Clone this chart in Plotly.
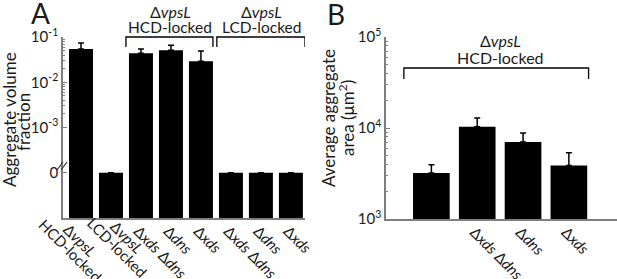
import plotly.graph_objects as go

# ---------------- data ----------------
a_labels = ["Δ<i>vpsL</i><br>HCD-locked", "Δ<i>vpsL</i><br>LCD-locked",
            "Δ<i>xds</i> Δ<i>dns</i>", "Δ<i>dns</i>", "Δ<i>xds</i>",
            "Δ<i>xds</i> Δ<i>dns</i>", "Δ<i>dns</i>", "Δ<i>xds</i>"]
a_values = [0.054, 0, 0.044, 0.051, 0.029, 0, 0, 0]
a_errors = [0.020, 0, 0.010, 0.015, 0.020, 0, 0, 0]

b_labels = ["", "Δ<i>xds</i> Δ<i>dns</i>", "Δ<i>dns</i>", "Δ<i>xds</i>"]
b_values = [3200, 10300, 7000, 3860]
b_errors = [750, 2600, 1800, 1500]

a_tickvals = [1e-4, 1e-3, 1e-2, 1e-1]
a_ticktext = ["0", "10<sup>-3</sup>", "10<sup>-2</sup>", "10<sup>-1</sup>"]
b_tickvals = [1e3, 1e4, 1e5]
b_ticktext = ["10<sup>3</sup>", "10<sup>4</sup>", "10<sup>5</sup>"]

ZERO_AT = 1e-4  # position of the "0" level below the axis break

FONT = "Lato"
TXT = "#1a1a1a"
AX = "#7f7f7f"

W, H = 617, 279
def px(x): return x / W
def py(y): return 1 - y / H

a_x = list(range(len(a_values)))
a_plot = [v if v > 0 else ZERO_AT for v in a_values]
b_x = list(range(len(b_values)))
# the two two-line labels are drawn as centred annotations below
a_ticktext_x = ["" if "<br>" in s else s for s in a_labels]

fig = go.Figure()
fig.add_trace(go.Bar(
    x=a_x, y=a_plot, width=0.8, marker=dict(color="black", line=dict(width=0)),
    error_y=dict(type="data", array=a_errors, arrayminus=[0] * len(a_errors),
                 symmetric=False, color="black", thickness=1.5, width=3),
    xaxis="x", yaxis="y", showlegend=False, hoverinfo="skip"))
fig.add_trace(go.Bar(
    x=b_x, y=b_values, width=0.8, marker=dict(color="black", line=dict(width=0)),
    error_y=dict(type="data", array=b_errors, arrayminus=[0] * len(b_errors),
                 symmetric=False, color="black", thickness=1.5, width=3),
    xaxis="x2", yaxis="y2", showlegend=False, hoverinfo="skip"))

minor_a = [k * 10 ** e for e in (-3, -2) for k in range(2, 10)]
minor_b = [k * 10 ** e for e in (3, 4) for k in range(2, 10)]

common_x = dict(showgrid=False, zeroline=False, showline=True, linecolor=AX, linewidth=1.5,
                ticks="", tickangle=45, tickfont=dict(family=FONT, size=15, color=TXT),
                ticklabelstandoff=-3, ticklabelshift=-3, automargin=False, fixedrange=True)
common_y = dict(type="log", showgrid=False, zeroline=False, showline=True, linecolor=AX,
                linewidth=1.5, ticks="inside", ticklen=4, tickcolor=AX,
                tickfont=dict(family=FONT, size=15, color=TXT), automargin=False,
                fixedrange=True)

fig.update_layout(
    width=W, height=H, margin=dict(l=0, r=0, t=0, b=0),
    paper_bgcolor="white", plot_bgcolor="white", bargap=0.2,
    xaxis=dict(domain=[px(63), px(305)], range=[-0.6, 7.47], tickmode="array",
               tickvals=a_x, ticktext=a_ticktext_x, anchor="y", **common_x),
    yaxis=dict(domain=[py(218), py(37)], range=[-5, -1], tickmode="array",
               tickvals=a_tickvals, ticktext=a_ticktext, anchor="x",
               minor=dict(tickmode="array", tickvals=minor_a, ticks="inside",
                          ticklen=2, tickcolor=AX), **common_y),
    xaxis2=dict(domain=[px(386), 1.0], range=[-0.99, 4.05], tickmode="array",
                tickvals=b_x, ticktext=b_labels, anchor="y2", **common_x),
    yaxis2=dict(domain=[py(219), py(37)], range=[3, 5], tickmode="array",
                tickvals=b_tickvals, ticktext=b_ticktext, anchor="x2",
                minor=dict(tickmode="array", tickvals=minor_b, ticks="inside",
                           ticklen=2, tickcolor=AX), **common_y),
)

# brackets
def bracket(xref, x0, x1, ytop, ybot):
    return dict(type="path", xref=xref, yref="paper",
                path=f"M {x0},{py(ybot)} L {x0},{py(ytop)} L {x1},{py(ytop)} L {x1},{py(ybot)}",
                line=dict(color="black", width=1.3))

fig.add_shape(bracket("x", 1.5, 4.4, 37, 47))
fig.add_shape(bracket("x", 4.53, 7.47, 37, 47))
fig.add_shape(bracket("x2", -0.6, 3.43, 68, 79))

# axis-break mark on panel A's y axis
for dx in (-2, 2):
    fig.add_shape(type="line", xref="paper", yref="paper",
                  x0=px(59 + dx), y0=py(170), x1=px(65 + dx), y1=py(162),
                  line=dict(color="#333333", width=1.2))

ann = []
def text(x, y, s, size=15, angle=0):
    ann.append(dict(x=px(x), y=py(y), xref="paper", yref="paper", text=s, showarrow=False,
                    xanchor="center", yanchor="middle", textangle=angle, align="center",
                    font=dict(family=FONT, size=size, color=TXT)))

text(170, 12, "Δ<i>vpsL</i>", size=16)
text(170, 27, "HCD-locked", size=15.5)
text(261, 12, "Δ<i>vpsL</i>", size=16)
text(261, 27, "LCD-locked", size=15.5)
text(500, 41, "Δ<i>vpsL</i>", size=16)
text(500, 58, "HCD-locked", size=16)
text(40, 13, "A", size=28)
text(336, 14, "B", size=28)
text(9, 120, "Aggregate volume", size=17, angle=-90)
text(23, 122, "fraction", size=17, angle=-90)
text(328, 118, "Average aggregate", size=17, angle=-90)
text(346, 118, "area (μm<sup>2</sup>)", size=17, angle=-90)
# two-line x tick labels of panel A (centred lines, rotated like the others)
l0 = a_labels[0].split("<br>")
l1 = a_labels[1].split("<br>")
text(80, 240, l0[0], size=15, angle=45)
text(70, 250, l0[1], size=15, angle=45)
text(127, 237, l1[0], size=15, angle=45)
text(117, 247, l1[1], size=15, angle=45)
fig.update_layout(annotations=ann)

fig.write_html("out.html", config={"displayModeBar": False},
               post_script="document.body.style.margin='0px';")
